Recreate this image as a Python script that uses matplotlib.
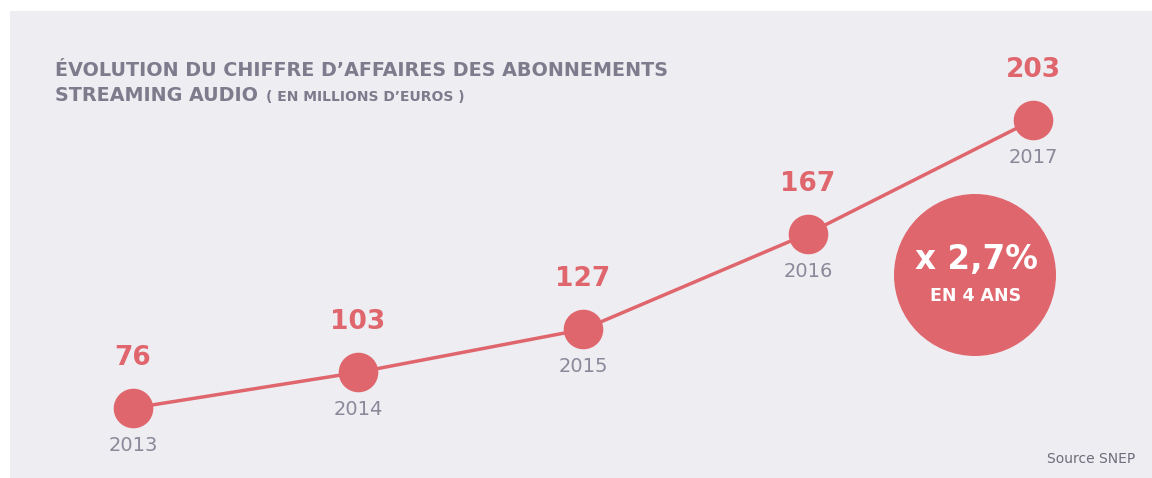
import matplotlib.pyplot as plt
from matplotlib.patches import Rectangle, Ellipse
import numpy as np

# data
years = [2013, 2014, 2015, 2016, 2017]
revenue = [76, 103, 127, 167, 203]  # millions d'euros
growth_text = 'x 2,7%'
growth_sub = 'EN 4 ANS'

red = '#E0666D'
grey_year = '#8A8899'
grey_title = '#7D7B8C'
panel_bg = '#EEEDF2'

W, H = 1152, 478
fig = plt.figure(figsize=(W / 100, H / 100), dpi=100)
fig.patch.set_facecolor('white')

# background panel
fig.add_artist(Rectangle((10 / W, 0), 1 - 10 / W, 1 - 11 / H,
                         transform=fig.transFigure, facecolor=panel_bg,
                         edgecolor='none', zorder=0))

# the infographic y axis is not linear, a power scale fits it well
p = 2.2
ax = fig.add_axes([133 / W, 70 / H, 900 / W, 288 / H])
ax.set_yscale('function', functions=(lambda v: np.abs(v) ** p,
                                     lambda v: np.abs(v) ** (1 / p)))
ax.set_xlim(2013, 2017)
ax.set_ylim(76, 203)
ax.axis('off')
ax.patch.set_alpha(0)

ax.plot(years, revenue, color=red, lw=2.5, zorder=2, clip_on=False)
ax.plot(years, revenue, 'o', color=red, markersize=27.5, zorder=3, clip_on=False)

for x, y in zip(years, revenue):
    ax.annotate(str(y), (x, y), xytext=(0, 36), textcoords='offset points',
                ha='center', va='center', color=red, fontsize=19,
                fontweight='bold', annotation_clip=False)
    ax.annotate(str(x), (x, y), xytext=(0, -27), textcoords='offset points',
                ha='center', va='center', color=grey_year, fontsize=14,
                annotation_clip=False)

# big circle
fig.add_artist(Ellipse((975 / W, 1 - 275 / H), 162 / W, 162 / H,
                       transform=fig.transFigure, facecolor=red,
                       edgecolor='none', zorder=1))
fig.text(976 / W, 1 - 260 / H, growth_text, ha='center', va='center',
         color='white', fontsize=23.5, fontweight='bold')
fig.text(976 / W, 1 - 296 / H, growth_sub, ha='center', va='center',
         color='white', fontsize=12.5, fontweight='bold')

# title
fig.text(55 / W, 1 - 76 / H, 'ÉVOLUTION DU CHIFFRE D\u2019AFFAIRES DES ABONNEMENTS',
         ha='left', va='baseline', color=grey_title, fontsize=13.8,
         fontweight='bold')
fig.text(55 / W, 1 - 101 / H, 'STREAMING AUDIO', ha='left', va='baseline',
         color=grey_title, fontsize=13.8, fontweight='bold')
fig.text(266 / W, 1 - 101 / H, '( EN MILLIONS D\u2019EUROS )', ha='left',
         va='baseline', color=grey_title, fontsize=10, fontweight='bold')

fig.text(1135 / W, 1 - 459 / H, 'Source SNEP', ha='right', va='center',
         color='#6E6C7A', fontsize=10)

plt.savefig('out.png', dpi=100)
plt.close()
